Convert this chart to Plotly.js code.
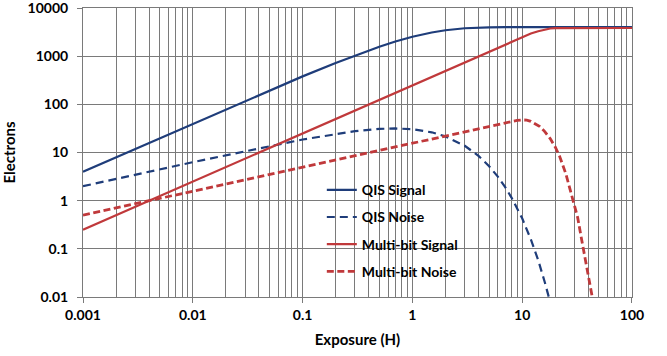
<!DOCTYPE html>
<html><head>
<script src="https://cdn.plot.ly/plotly-3.0.1.min.js"></script>
<style>body{margin:0;background:#fff}</style>
</head><body>
<div id="c" style="width:667px;height:356px"></div>
<script>
const qisH = [0.001,0.01,0.1,0.2,0.3,0.5,0.7,1,1.5,2,3,4,5,7,10,100];
const qisSignal = [4,39.8,381,725,1037,1574,2014,2528,3107,3459,3801,3927,3973,3996,4000,4000];
const qisNoiseH = [0.001,0.01,0.1,0.2,0.3,0.5,0.7,1,1.5,2,3,4,5,6,7,8,10,12,14,16,18];
const qisNoise = [2,6.3,18.6,24.4,27.7,30.9,31.6,30.5,26.3,21.6,13.8,8.5,5.2,3.15,1.91,1.16,0.43,0.157,0.058,0.021,0.0078];
const mbH = [0.001,0.01,0.1,1,5,8,10,12,14,16,18,20,25,100];
const mbSignal = [0.25,2.5,25,250,1250,2000,2500,2950,3300,3580,3760,3840,3850,3850];
const mbNoiseH = [0.001,0.01,0.1,1,3,5,7,8,9,10,11,12,13,14.5,16,18,20,22,25,27,29,32,35,38,41,43,46];
const mbNoise = [0.5,1.58,5,15.8,27.4,35.4,41.8,44.7,46.5,47.5,47.2,44.5,40.5,34.4,27.5,19.5,13,8.2,3.6,1.9,1.15,0.45,0.145,0.05,0.018,0.01,0.005];
const xTicks = [0.001,0.01,0.1,1,10,100];
const xTickText = ['0.001','0.01','0.1','1','10','100'];
const yTicks = [0.01,0.1,1,10,100,1000,10000];
const yTickText = ['0.01','0.1','1','10','100','1000','10000'];

const blue = '#1f3d7a', red = '#c0393b';
const F = 'Lato, "Open Sans", sans-serif';
const traces = [
  {x: qisH, y: qisSignal, name: 'QIS Signal', legendgroup:'a', mode:'lines', line:{color:blue, width:2.2}},
  {x: qisNoiseH, y: qisNoise, name: 'QIS Noise', legendgroup:'b', mode:'lines', line:{color:blue, width:2.2, dash:'8px,5px'}},
  {x: mbH, y: mbSignal, name: 'Multi-bit Signal', legendgroup:'c', mode:'lines', line:{color:red, width:2.2}},
  {x: mbNoiseH, y: mbNoise, name: 'Multi-bit Noise', legendgroup:'d', mode:'lines', line:{color:red, width:2.8, dash:'7px,3.5px'}}
];
const grid = '#7a7a7a';
const layout = {
  width: 667, height: 356,
  margin: {l:83, r:35, t:8, b:59},
  paper_bgcolor:'#fff', plot_bgcolor:'#fff',
  font: {family: F, size: 14, color:'#000', weight:'bold'},
  showlegend: true,
  legend: {x:0.435, y:0.425, xanchor:'left', yanchor:'top', bgcolor:'rgba(0,0,0,0)',
    traceorder:'grouped', tracegroupgap:6, font:{family:F, size:14, weight:'bold', color:'#000'}},
  xaxis: {type:'log', range:[-3,2.0003], tickvals:xTicks, ticktext:xTickText,
    showgrid:true, gridcolor:grid, gridwidth:1, ticks:'outside', ticklen:5, tickcolor:grid,
    showline:true, linecolor:grid, mirror:true, zeroline:false, ticklabeloverflow:'allow',
    minor:{dtick:'D1', showgrid:true, gridcolor:grid, gridwidth:1, ticks:''},
    tickfont:{family:F, size:14, weight:'bold'},
    title:{text:'Exposure (H)', font:{family:F, size:15, weight:'bold'}, standoff:12}},
  yaxis: {type:'log', range:[-2,4.0005], tickvals:yTicks, ticktext:yTickText,
    showgrid:true, gridcolor:grid, gridwidth:1, ticks:'outside', ticklen:5, tickcolor:grid,
    showline:true, linecolor:grid, mirror:true, zeroline:false, ticklabeloverflow:'allow',
    tickfont:{family:F, size:14, weight:'bold'}, ticklabelstandoff:6,
    title:{text:'Electrons', font:{family:F, size:15, weight:'bold'}, standoff:8}},
  shapes: [{type:'rect', xref:'paper', yref:'paper', x0:0.4044, x1:0.7268, y0:0.0416, y1:0.4404,
    fillcolor:'#fff', line:{width:0}, layer:'between'}]
};
Plotly.newPlot('c', traces, layout, {displayModeBar:false, staticPlot:true});
</script>
</body></html>
